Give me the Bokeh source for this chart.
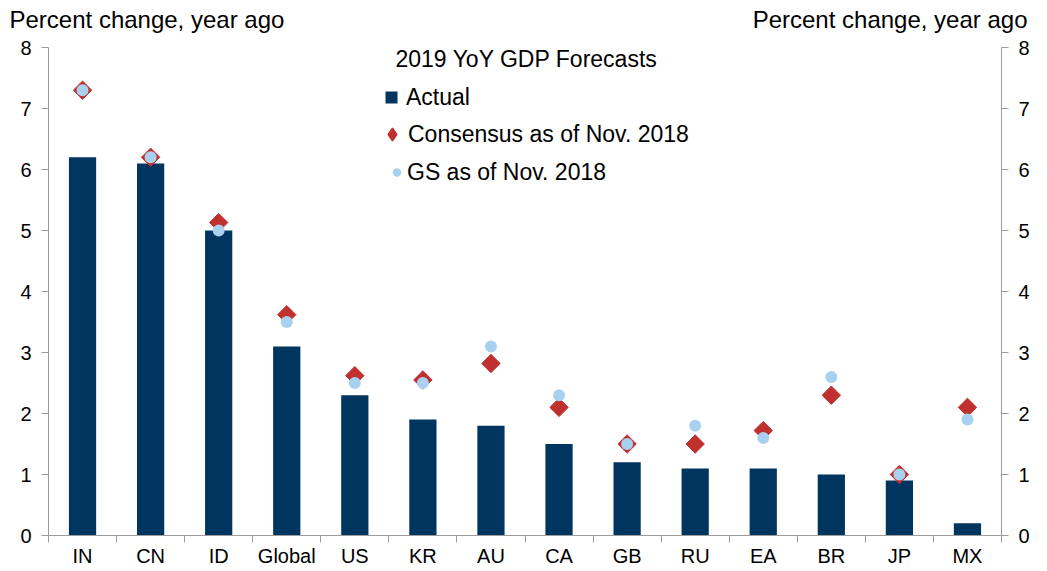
import numpy as np
from bokeh.plotting import figure
from bokeh.layouts import column
from bokeh.models import Range1d, LinearAxis, FixedTicker, Legend, LegendItem, Label
from bokeh.core.properties import value
from bokeh.embed import file_html
from bokeh.resources import INLINE

categories = ["IN", "CN", "ID", "Global", "US", "KR", "AU", "CA", "GB", "RU", "EA", "BR", "JP", "MX"]
actual = [6.2, 6.1, 5.0, 3.1, 2.3, 1.9, 1.8, 1.5, 1.2, 1.1, 1.1, 1.0, 0.9, 0.2]
consensus = [7.3, 6.2, 5.13, 3.62, 2.62, 2.55, 2.82, 2.1, 1.5, 1.5, 1.72, 2.3, 1.0, 2.1]
gs = [7.3, 6.2, 5.0, 3.5, 2.5, 2.5, 3.1, 2.3, 1.5, 1.8, 1.6, 2.6, 1.0, 1.9]
y_ticks = [0, 1, 2, 3, 4, 5, 6, 7, 8]
legend_title = "2019 YoY GDP Forecasts"
series_names = ["Actual", "Consensus as of Nov. 2018", "GS as of Nov. 2018"]
axis_title = "Percent change, year ago"

FONT = "Liberation Sans"
AXIS_GRAY = "#9c9c9c"
BAR_COLOR = "#00355F"
DIAMOND_COLOR = "#C0302E"
CIRCLE_COLOR = "#A8D1F0"

W, H = 1047, 571
HEADER_H = 38

n = len(categories)
centers = [i + 0.5 for i in range(n)]
bounds = list(range(n + 1))

# ---- header strip with the two axis titles ----
header = figure(width=W, height=HEADER_H, x_range=Range1d(0, W), y_range=Range1d(0, HEADER_H),
                output_backend="svg", toolbar_location=None, x_axis_location=None, y_axis_location=None,
                min_border=0)
header.outline_line_color = None
header.xgrid.visible = False
header.ygrid.visible = False
header.text(x=[9], y=[HEADER_H - 19], text=[axis_title], text_font=value(FONT), text_font_size="24px",
            text_baseline="middle", text_align="left", text_color="black")
header.text(x=[1027], y=[HEADER_H - 19], text=[axis_title], text_font=value(FONT), text_font_size="24px",
            text_baseline="middle", text_align="right", text_color="black")

# ---- main chart ----
p = figure(width=W, height=H - HEADER_H, x_range=Range1d(0, n), y_range=Range1d(y_ticks[0], y_ticks[-1]),
           output_backend="svg", toolbar_location=None,
           min_border_left=48, min_border_right=46, min_border_top=47 - HEADER_H, min_border_bottom=36)
p.outline_line_color = None
p.xgrid.visible = False
p.ygrid.visible = False

try:
    header.frame_align = False
    p.frame_align = False
except AttributeError:
    pass

def style_y(ax):
    ax.ticker = FixedTicker(ticks=y_ticks)
    ax.axis_line_color = AXIS_GRAY
    ax.major_tick_line_color = AXIS_GRAY
    ax.major_tick_in = 0
    ax.major_tick_out = 7
    ax.minor_tick_line_color = None
    ax.major_label_text_font = FONT
    ax.major_label_text_font_size = "20px"
    ax.major_label_text_color = "black"
    ax.major_label_standoff = 10

style_y(p.yaxis[0])
ra = LinearAxis()
style_y(ra)
p.add_layout(ra, "right")

xa = p.xaxis[0]
xa.ticker = FixedTicker(ticks=centers, minor_ticks=bounds)
xa.major_label_overrides = {c: lab for c, lab in zip(centers, categories)}
xa.axis_line_color = AXIS_GRAY
xa.major_tick_line_color = None
xa.major_tick_in = 0
xa.major_tick_out = 0
xa.minor_tick_line_color = AXIS_GRAY
xa.minor_tick_in = 0
xa.minor_tick_out = 7
xa.major_label_text_font = FONT
xa.major_label_text_font_size = "20px"
xa.major_label_text_color = "black"
xa.major_label_standoff = 2

bars = p.vbar(x=centers, top=actual, bottom=0, width=0.4, fill_color=BAR_COLOR, line_color=None)
diam = p.scatter(x=centers, y=consensus, marker="square", angle=np.pi / 4, size=13,
                 fill_color=DIAMOND_COLOR, line_color=DIAMOND_COLOR)
circ = p.scatter(x=centers, y=gs, marker="circle", size=12, fill_color=CIRCLE_COLOR, line_color=None)

# hidden proxy renderers: only their legend swatches are shown
sw_bar = p.scatter(x=centers, y=actual, marker="square", fill_color=BAR_COLOR, line_color=None, visible=False)
sw_dia = p.scatter(x=centers, y=consensus, marker="diamond", fill_color=DIAMOND_COLOR,
                   line_color=DIAMOND_COLOR, line_width=1.5, visible=False)
sw_cir = p.scatter(x=centers, y=gs, marker="circle", fill_color=CIRCLE_COLOR, line_color=None, visible=False)

def make_legend(label, rend, loc, gw):
    lg = Legend(items=[LegendItem(label=label, renderers=[rend])], location=loc)
    lg.border_line_color = None
    lg.background_fill_alpha = 0
    lg.inactive_fill_alpha = 0
    lg.padding = 0
    lg.margin = 0
    lg.label_text_font = FONT
    lg.label_text_font_size = "23px"
    lg.label_text_color = "black"
    lg.glyph_width = gw
    lg.glyph_height = 32
    lg.label_height = 32
    lg.label_standoff = 0
    p.add_layout(lg)

make_legend(series_names[0], sw_bar, (328, 422), 30)
make_legend(series_names[1], sw_dia, (328, 385), 32)
make_legend(series_names[2], sw_cir, (338, 347), 21)

lt = Label(x=347, y=477, x_units="screen", y_units="screen", text=legend_title,
           text_font=FONT, text_font_size="23px", text_baseline="middle", text_align="left",
           text_color="black")
p.add_layout(lt)

layout = column(header, p, spacing=0)
open("out.html", "w").write(file_html(layout, INLINE))
